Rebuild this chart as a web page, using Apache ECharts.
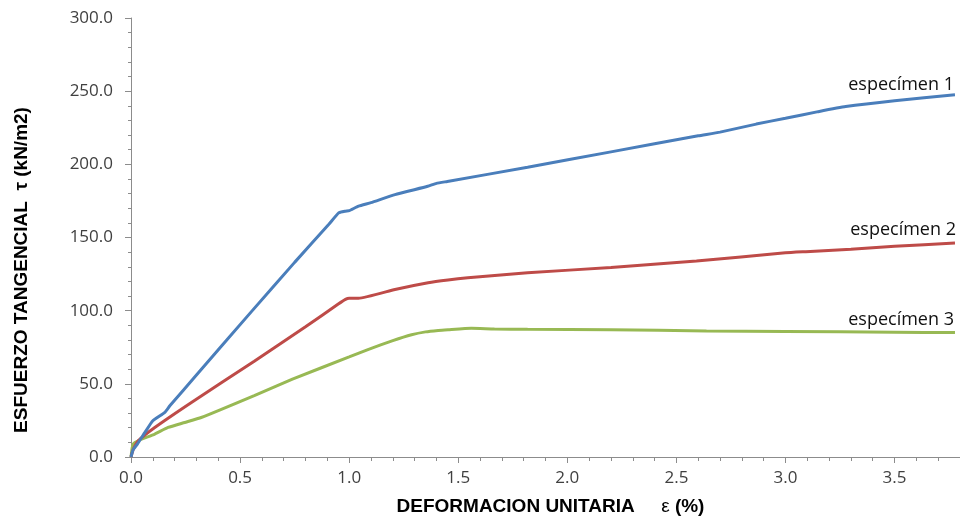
<!DOCTYPE html>
<html>
<head>
<meta charset="utf-8">
<script src="https://cdn.jsdelivr.net/npm/echarts@6/dist/echarts.min.js"></script>
<style>
  html, body { margin: 0; padding: 0; background: #fff; }
  #chart { width: 960px; height: 521px; }
</style>
</head>
<body>
<div id="chart"></div>
<script>
// Shear stress (kN/m2) vs. unit strain (%) for three specimens
const labels = ['especímen 1', 'especímen 2', 'especímen 3'];
const colors = ['#4a7ebb', '#be4b48', '#98b954'];

const strain1 = [0, 0.01, 0.03, 0.064, 0.10, 0.155, 0.178, 0.3, 0.55, 0.75, 0.907, 0.952, 0.983, 1.0, 1.043, 1.1, 1.21, 1.36, 1.40, 1.45, 1.818, 2.2, 2.6, 2.7, 2.866, 3.0, 3.15, 3.276, 3.5, 3.777];
const stress1 = [0, 5, 9, 16.8, 24.8, 30.5, 35, 56, 99, 133, 159, 166.8, 168, 168.3, 171.4, 173.8, 179.3, 185, 187, 188.3, 198, 208.5, 219.5, 222, 227.5, 231.5, 236, 239.5, 243.5, 247.5];

const strain2 = [0, 0.01, 0.033, 0.109, 0.277, 0.565, 0.8, 0.95, 0.983, 1.0, 1.043, 1.21, 1.362, 1.453, 1.544, 1.818, 2.2, 2.592, 3.0, 3.093, 3.3, 3.5, 3.777];
const stress2 = [0, 5, 11.1, 20.2, 37.3, 65.5, 89, 104.5, 107.7, 108.5, 108.5, 114.5, 119.1, 121, 122.5, 125.9, 129.5, 134, 139.5, 140.3, 142, 144, 146.2];

const strain3 = [0, 0.005, 0.01, 0.033, 0.109, 0.17, 0.246, 0.322, 0.565, 0.74, 1.0, 1.089, 1.2, 1.286, 1.35, 1.408, 1.453, 1.56, 1.666, 1.818, 2.2, 2.638, 3.0, 3.5, 3.777];
const stress3 = [0, 6, 9, 11.1, 15.7, 20.2, 23.6, 27, 42, 53.2, 68.4, 73.6, 79.5, 83.5, 85.5, 86.5, 87, 88, 87.5, 87.3, 87, 86.1, 85.8, 85.3, 85];

const strains = [strain1, strain2, strain3];
const stresses = [stress1, stress2, stress3];
const labelOffsets = [[3, -10], [5, -13], [3, -13]];

const axisGray = '#8c8c8c';
const tickText = '#404040';

const chart = echarts.init(document.getElementById('chart'), null, { renderer: 'canvas' });

const series = strains.map((xs, i) => {
  const pts = xs.map((x, k) => [x, stresses[i][k]]);
  const last = pts[pts.length - 1];
  return {
    name: labels[i],
    type: 'line',
    data: pts,
    showSymbol: false,
    smooth: 0.15,
    lineStyle: { color: colors[i], width: 3 },
    itemStyle: { color: colors[i] },
    z: 3 - i,
    markPoint: {
      symbol: 'circle',
      symbolSize: 0,
      silent: true,
      data: [{ coord: last, value: labels[i] }],
      label: {
        show: true,
        position: 'left',
        distance: 4,
        offset: labelOffsets[i],
        formatter: labels[i],
        color: '#111',
        fontFamily: 'Open Sans',
        fontSize: 18
      }
    }
  };
});

chart.setOption({
  animation: false,
  backgroundColor: '#ffffff',
  grid: { left: 131, right: -5, top: 18, bottom: 63, containLabel: false },
  xAxis: {
    type: 'value',
    min: 0,
    max: 3.8,
    interval: 0.5,
    name: '{b|DEFORMACION UNITARIA     }{n|ε }{b|(%)}',
    nameLocation: 'middle',
    nameGap: 40,
    nameTextStyle: {
      padding: [0, 0, 0, 10],
      rich: {
        b: { fontFamily: 'Liberation Sans', fontWeight: 'bold', fontSize: 19, color: '#000' },
        n: { fontFamily: 'Liberation Sans', fontWeight: 'normal', fontSize: 19, color: '#000' }
      }
    },
    axisLine: { show: true, onZero: false, lineStyle: { color: axisGray, width: 1 } },
    axisTick: { show: true, length: 6, lineStyle: { color: axisGray } },
    minorTick: { show: true, splitNumber: 5, length: 4, lineStyle: { color: axisGray } },
    splitLine: { show: false },
    minorSplitLine: { show: false },
    axisLabel: {
      margin: 13,
      showMaxLabel: false,
      color: tickText,
      fontFamily: 'Open Sans',
      fontSize: 17,
      formatter: v => v.toFixed(1)
    }
  },
  yAxis: {
    type: 'value',
    min: 0,
    max: 300,
    interval: 50,
    axisLine: { show: true, onZero: false, lineStyle: { color: axisGray, width: 1 } },
    axisTick: { show: true, length: 6, lineStyle: { color: axisGray } },
    minorTick: { show: true, splitNumber: 5, length: 3, lineStyle: { color: axisGray } },
    splitLine: { show: false },
    minorSplitLine: { show: false },
    axisLabel: {
      margin: 18,
      color: tickText,
      fontFamily: 'Open Sans',
      fontSize: 17,
      formatter: v => v.toFixed(1)
    }
  },
  graphic: [{
    type: 'text',
    x: 22,
    y: 270,
    rotation: Math.PI / 2,
    silent: true,
    style: {
      text: 'ESFUERZO TANGENCIAL  τ (kN/m2)',
      fontFamily: 'Liberation Sans',
      fontWeight: 'bold',
      fontSize: 19,
      fill: '#000',
      align: 'center',
      verticalAlign: 'middle'
    }
  }],
  series: series
});
</script>
</body>
</html>
